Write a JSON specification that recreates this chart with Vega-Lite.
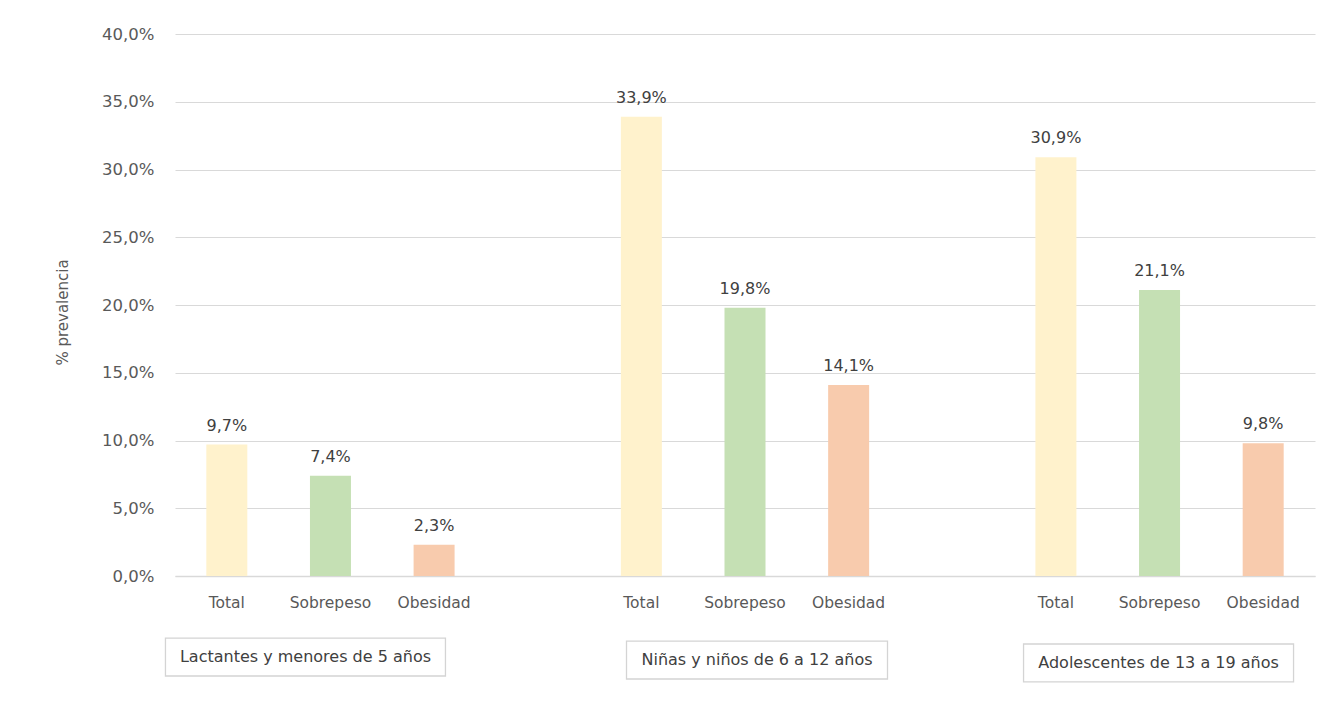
{
  "$schema": "https://vega.github.io/schema/vega-lite/v6.json",
  "width": 1140,
  "height": 542,
  "autosize": {"type": "none"},
  "padding": {"left": 175, "top": 34, "right": 12, "bottom": 137},
  "background": "white",
  "config": {
    "locale": {"number": {"decimal": ",", "thousands": ".", "grouping": [3], "currency": ["", " €"]}},
    "view": {"stroke": null},
    "font": "DejaVu Sans"
  },
  "datasets": {
    "bars": [
      {"key": "1|Total", "grupo": "Lactantes y menores de 5 años", "indicador": "Total", "valor": 0.097},
      {"key": "1|Sobrepeso", "grupo": "Lactantes y menores de 5 años", "indicador": "Sobrepeso", "valor": 0.074},
      {"key": "1|Obesidad", "grupo": "Lactantes y menores de 5 años", "indicador": "Obesidad", "valor": 0.023},
      {"key": "2|Total", "grupo": "Niñas y niños de 6 a 12 años", "indicador": "Total", "valor": 0.339},
      {"key": "2|Sobrepeso", "grupo": "Niñas y niños de 6 a 12 años", "indicador": "Sobrepeso", "valor": 0.198},
      {"key": "2|Obesidad", "grupo": "Niñas y niños de 6 a 12 años", "indicador": "Obesidad", "valor": 0.141},
      {"key": "3|Total", "grupo": "Adolescentes de 13 a 19 años", "indicador": "Total", "valor": 0.309},
      {"key": "3|Sobrepeso", "grupo": "Adolescentes de 13 a 19 años", "indicador": "Sobrepeso", "valor": 0.211},
      {"key": "3|Obesidad", "grupo": "Adolescentes de 13 a 19 años", "indicador": "Obesidad", "valor": 0.098}
    ],
    "groups": [
      {"key": "1|Sobrepeso", "grupo": "Lactantes y menores de 5 años"},
      {"key": "2|Sobrepeso", "grupo": "Niñas y niños de 6 a 12 años"},
      {"key": "3|Sobrepeso", "grupo": "Adolescentes de 13 a 19 años"}
    ]
  },
  "encoding": {
    "x": {
      "field": "key",
      "type": "nominal",
      "sort": null,
      "scale": {
        "domain": ["1|Total", "1|Sobrepeso", "1|Obesidad", "gap1", "2|Total", "2|Sobrepeso", "2|Obesidad", "gap2", "3|Total", "3|Sobrepeso", "3|Obesidad"],
        "paddingInner": 0,
        "paddingOuter": 0
      },
      "axis": {
        "title": null,
        "labelAngle": 0,
        "labelExpr": "indexof(datum.value, '|') >= 0 ? split(datum.value, '|')[1] : ''",
        "labelFontSize": 15.5,
        "labelColor": "#595959",
        "labelPadding": 19,
        "ticks": false,
        "domain": true,
        "domainColor": "#d9d9d9",
        "domainWidth": 1.5,
        "grid": false
      }
    }
  },
  "layer": [
    {
      "data": {"name": "bars"},
      "mark": {"type": "bar", "width": 41},
      "encoding": {
        "y": {
          "field": "valor",
          "type": "quantitative",
          "scale": {"domain": [0, 0.4], "nice": false},
          "axis": {
            "title": "% prevalencia",
            "titleFont": "DejaVu Sans",
            "titleFontSize": 15,
            "titleFontWeight": "normal",
            "titleColor": "#595959",
            "titleX": -113,
            "titleY": 278,
            "titleAngle": -90,
            "titleAlign": "center",
            "titleBaseline": "middle",
            "format": ".1%",
            "labelFontSize": 16.5,
            "labelColor": "#595959",
            "labelPadding": 21,
            "values": [0, 0.05, 0.1, 0.15, 0.2, 0.25, 0.3, 0.35, 0.4],
            "labelOverlap": false,
            "ticks": false,
            "domain": false,
            "gridColor": "#d9d9d9",
            "gridWidth": 1.2
          }
        },
        "color": {
          "field": "indicador",
          "type": "nominal",
          "scale": {"domain": ["Total", "Sobrepeso", "Obesidad"], "range": ["#FFF2CC", "#C5E0B4", "#F8CBAD"]},
          "legend": null
        }
      }
    },
    {
      "data": {"name": "bars"},
      "mark": {"type": "text", "baseline": "alphabetic", "dy": -14, "fontSize": 16, "color": "#404040"},
      "encoding": {
        "y": {"field": "valor", "type": "quantitative"},
        "text": {"field": "valor", "type": "quantitative", "format": ".1%"}
      }
    },
    {
      "data": {"name": "groups"},
      "transform": [{"filter": "datum.key == '1|Sobrepeso'"}],
      "mark": {"type": "bar", "width": 280, "xOffset": -25, "fill": "white", "stroke": "#d4d4d4", "strokeWidth": 1.3},
      "encoding": {"y": {"datum": -0.0458}, "y2": {"datum": -0.0738}}
    },
    {
      "data": {"name": "groups"},
      "transform": [{"filter": "datum.key == '1|Sobrepeso'"}],
      "mark": {"type": "text", "baseline": "middle", "fontSize": 16, "color": "#404040", "xOffset": -25},
      "encoding": {"y": {"datum": -0.0598}, "text": {"field": "grupo"}}
    },
    {
      "data": {"name": "groups"},
      "transform": [{"filter": "datum.key == '2|Sobrepeso'"}],
      "mark": {"type": "bar", "width": 261, "xOffset": 12, "fill": "white", "stroke": "#d4d4d4", "strokeWidth": 1.3},
      "encoding": {"y": {"datum": -0.048}, "y2": {"datum": -0.076}}
    },
    {
      "data": {"name": "groups"},
      "transform": [{"filter": "datum.key == '2|Sobrepeso'"}],
      "mark": {"type": "text", "baseline": "middle", "fontSize": 16, "color": "#404040", "xOffset": 12},
      "encoding": {"y": {"datum": -0.062}, "text": {"field": "grupo"}}
    },
    {
      "data": {"name": "groups"},
      "transform": [{"filter": "datum.key == '3|Sobrepeso'"}],
      "mark": {"type": "bar", "width": 270, "xOffset": -1, "fill": "white", "stroke": "#d4d4d4", "strokeWidth": 1.3},
      "encoding": {"y": {"datum": -0.0502}, "y2": {"datum": -0.0782}}
    },
    {
      "data": {"name": "groups"},
      "transform": [{"filter": "datum.key == '3|Sobrepeso'"}],
      "mark": {"type": "text", "baseline": "middle", "fontSize": 16, "color": "#404040", "xOffset": -1},
      "encoding": {"y": {"datum": -0.0642}, "text": {"field": "grupo"}}
    }
  ]
}
